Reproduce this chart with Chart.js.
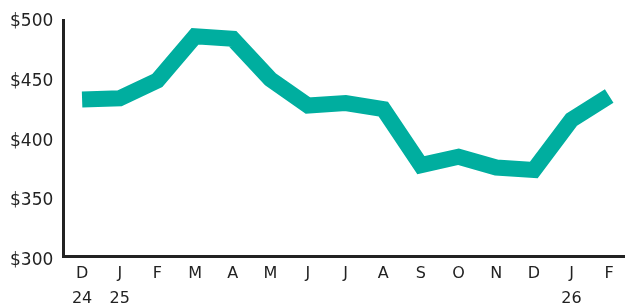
<!DOCTYPE html>
<html>
<head>
<meta charset="utf-8">
<script src="https://cdn.jsdelivr.net/npm/chart.js@4"></script>
<style>
  html, body { margin: 0; padding: 0; background: #fff; overflow: hidden; }
  #wrap { width: 628px; height: 316px; }
</style>
</head>
<body>
<div id="wrap"><canvas id="chart" width="628" height="316"></canvas></div>
<script>
const months = [["D", "24"], ["J", "25"], "F", "M", "A", "M", "J", "J", "A", "S", "O", "N", "D", ["J", "26"], "F"];
const prices = [435, 436, 451, 488, 486, 452, 430, 432, 427, 380, 387, 378, 376, 418, 438];
const yTicks = [300, 350, 400, 450, 500];

const teal = "#00ae9f";
const ink = "#222222";

new Chart(document.getElementById("chart"), {
  type: "line",
  data: {
    labels: months,
    datasets: [{
      data: prices,
      borderColor: teal,
      borderWidth: 16,
      borderCapStyle: "butt",
      borderJoinStyle: "miter",
      pointRadius: 0,
      tension: 0
    }]
  },
  options: {
    responsive: false,
    animation: false,
    layout: { padding: { top: 9, left: 0, right: 0, bottom: 0 } },
    plugins: { legend: { display: false }, tooltip: { enabled: false } },
    scales: {
      x: {
        offset: true,
        grid: { display: false, drawTicks: false },
        border: { color: ink, width: 3 },
        ticks: {
          color: ink,
          padding: 5,
          maxRotation: 0,
          autoSkip: false,
          font: { family: "DejaVu Sans", size: 16, lineHeight: 1.55 }
        }
      },
      y: {
        min: 303.5,
        max: 501.5,
        afterBuildTicks: (scale) => {
          scale.ticks = yTicks.map(v => ({ value: v }));
        },
        grid: { display: false, drawTicks: false },
        border: { color: ink, width: 3 },
        ticks: {
          color: ink,
          padding: 10,
          font: { family: "DejaVu Sans", size: 17 },
          callback: (v) => "$" + v
        }
      }
    }
  }
});
</script>
</body>
</html>
